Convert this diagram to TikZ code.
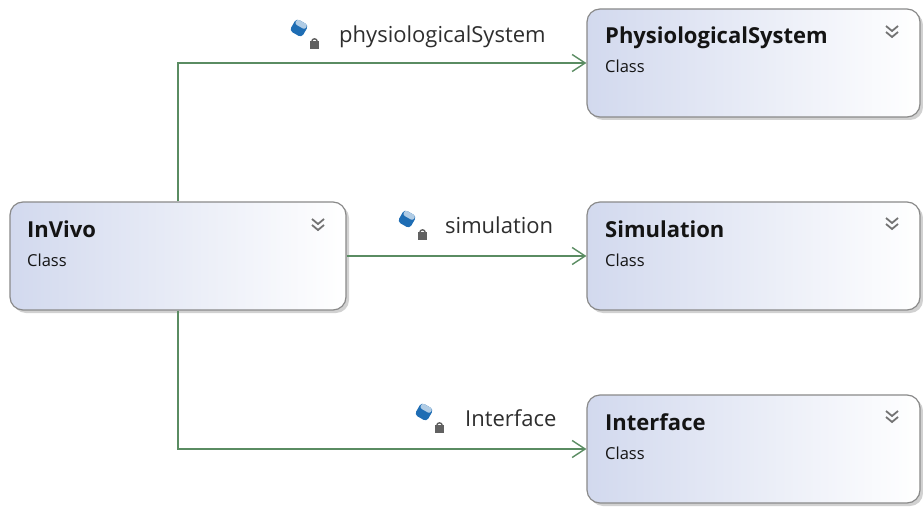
\documentclass[tikz,border=0pt]{standalone}
\usepackage{fontspec}
\setmainfont{Open Sans}
\usetikzlibrary{arrows.meta,shadows,calc}
\definecolor{linegreen}{HTML}{5A8C62}
\definecolor{boxleft}{HTML}{D2D9EE}
\definecolor{boxborder}{HTML}{8A8A8A}
\definecolor{iconblue}{HTML}{1E6DB4}
\definecolor{textdark}{HTML}{141414}
\tikzset{
  classbox/.style={draw=boxborder, line width=1.2pt, rounded corners=13pt,
    left color=boxleft, right color=white, minimum height=108pt,
    drop shadow={shadow xshift=3pt, shadow yshift=-3pt, fill=black!18, opacity=1}},
  titletext/.style={anchor=base west, inner sep=0pt, font=\fontsize{22}{26}\selectfont\bfseries, text=textdark},
  kindtext/.style={anchor=base west, inner sep=0pt, font=\fontsize{16.5}{19}\selectfont, text=textdark},
  roletext/.style={anchor=base west, inner sep=0pt, font=\fontsize{22}{26}\selectfont, text=black!82},
  assoc/.style={draw=linegreen, line width=1.4pt, -{Straight Barb[length=13pt,width=17pt,line width=1.4pt]}},
  chev/.style={draw=black!55, line width=1.8pt},
}
\newcommand{\chevmark}[1]{%
  \draw[chev] ($(#1)+(-6,-6)$) -- ($(#1)+(0,-1)$) -- ($(#1)+(6,-6)$);
  \draw[chev] ($(#1)+(-6,0)$) -- ($(#1)+(0,5)$) -- ($(#1)+(6,0)$);}
\newcommand{\propicon}[1]{%
  \fill[iconblue, rotate around={-30:(#1)}, rounded corners=3.5pt] ($(#1)+(-7,-7)$) rectangle ($(#1)+(7,7)$);
  \fill[white!65!iconblue, rotate around={-30:(#1)}, rounded corners=2.5pt] ($(#1)+(-6,-7)$) rectangle ($(#1)+(6,-1.5)$);
  \fill[black!62] ($(#1)+(11,13)$) rectangle ($(#1)+(20,21)$);
  \draw[black!62, line width=1.4pt] ($(#1)+(12.8,13.5)$) arc[start angle=180,end angle=360,radius=2.7];}
\begin{document}
\begin{tikzpicture}[x=1pt,y=-1pt]
\useasboundingbox[fill=white] (0,0) rectangle (923,508);

\node[classbox, minimum width=336pt] (invivo) at (178,256) {};
\node[classbox, minimum width=333pt] (phys) at (753.5,63) {};
\node[classbox, minimum width=333pt] (sim) at (753.5,256) {};
\node[classbox, minimum width=333pt] (iface) at (753.5,449) {};

\node[titletext] (invivot) at (27,237) {InVivo};
\node[kindtext] (invivok) at (27,266) {Class};
\node[titletext] (physt) at (605,44) {PhysiologicalSystem};
\node[kindtext] (physk) at (605,73) {Class};
\node[titletext] (simt) at (605,237) {Simulation};
\node[kindtext] (simk) at (605,266) {Class};
\node[titletext] (ifacet) at (605,430) {Interface};
\node[kindtext] (ifacek) at (605,459) {Class};

\coordinate (c1) at (318,225);
\coordinate (c2) at (892,32);
\coordinate (c3) at (892,224);
\coordinate (c4) at (892,417);
\chevmark{c1}
\chevmark{c2}
\chevmark{c3}
\chevmark{c4}

\draw[assoc] (invivo.north) |- (phys.west);
\draw[assoc] (invivo.east) -- (sim.west);
\draw[assoc] (invivo.south) |- (iface.west);

\coordinate (i1) at (299,28);
\coordinate (i2) at (407,219);
\coordinate (i3) at (424,412);
\propicon{i1}
\propicon{i2}
\propicon{i3}
\node[roletext] (r1) at (339,43) {physiologicalSystem};
\node[roletext] (r2) at (445,233) {simulation};
\node[roletext] (r3) at (465,426) {Interface};
\end{tikzpicture}
\end{document}
